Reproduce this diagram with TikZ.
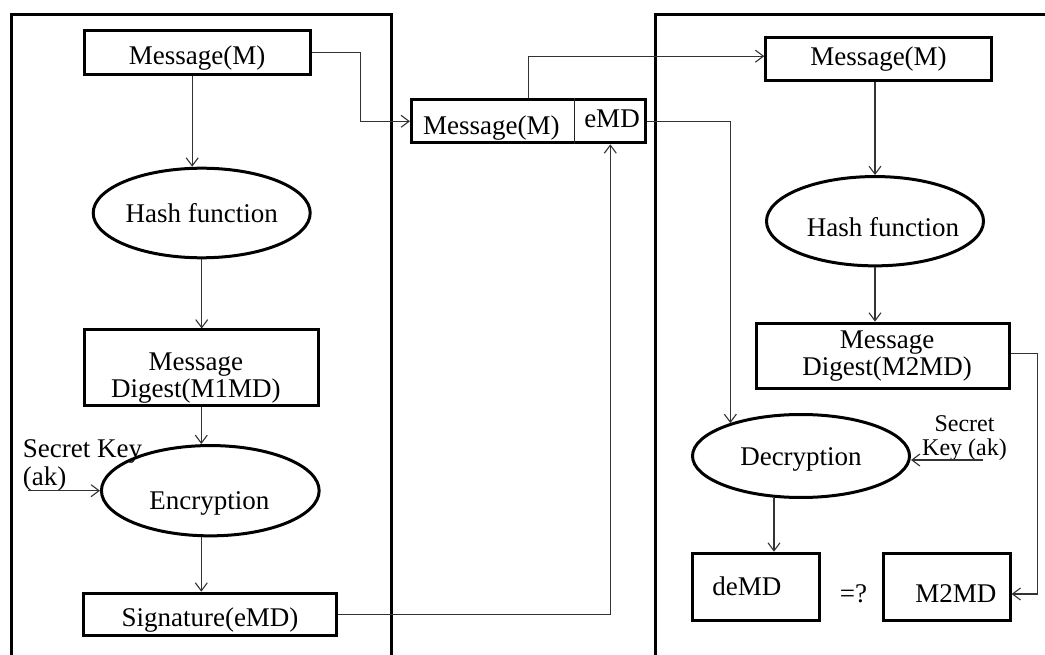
\documentclass[tikz,border=0pt]{standalone}
\usepackage{fontspec}
\setmainfont{Liberation Serif}
\usetikzlibrary{arrows.meta,shapes.geometric,calc}
\begin{document}
\begin{tikzpicture}[x=1pt,y=-1pt,
  every node/.style={font=\fontsize{27}{27}\selectfont, inner sep=0pt},
  rbox/.style={draw=black, line width=3pt, rectangle, align=center},
  ell/.style={draw=black, line width=3pt, ellipse, align=center},
  panel/.style={draw=black, line width=3pt},
  divider/.style={draw=black!85, line width=1.2pt},
  arr/.style={draw=black!80, line width=1.1pt, -{Straight Barb[length=8pt,width=12pt]}},
  lbl/.style n args={3}{label={[shift={(#1,#2)},align=center,font=\fontsize{27}{27}\selectfont]center:#3}}]
\useasboundingbox (0,0) rectangle (1045,655);

% panels
\draw[panel] (11.2,670) -- (11.2,14.5) -- (391.7,14.5) -- (391.7,670);
\draw[panel] (655.7,670) -- (655.7,14.5) -- (1060,14.5);

% left side (sender)
\node[rbox, minimum width=226pt, minimum height=44pt, lbl={0}{6}{Message(M)}] (msg1) at (197.2,52.2) {};
\node[ell, minimum width=217pt, minimum height=89.6pt] (hash1) at (201.7,213) {Hash function};
\node[rbox, minimum width=234pt, minimum height=75pt, lbl={-5.5}{11}{Message\\Digest(M1MD)}] (md1) at (201.3,367.5) {};
\node[ell, minimum width=217.7pt, minimum height=90.3pt, lbl={-1}{13}{Encryption}] (enc) at (210.3,490.7) {};
\node[rbox, minimum width=253pt, minimum height=42.6pt, lbl={0}{6}{Signature(eMD)}] (sig) at (210,614.5) {};
\node[anchor=west, align=left, font=\fontsize{27}{28}\selectfont] (skL) at (22.7,465.4) {Secret Key\\(ak)};
\coordinate (skLs) at (28.3,490.7);

% middle packet
\node[rbox, minimum width=233.7pt, minimum height=43pt] (mid) at (528.3,121.3) {};
\coordinate (dv) at (574.3,121.3);
\draw[divider] (dv |- mid.north) -- (dv |- mid.south);
\node (midA) at (491.3,128) {Message(M)};
\node (midB) at (612,118.3) {eMD};

% right side (receiver)
\node[rbox, minimum width=225.4pt, minimum height=43.3pt] (msg2) at (878.5,59.2) {Message(M)};
\node[ell, minimum width=217pt, minimum height=89.3pt, lbl={8}{6}{Hash function}] (hash2) at (875,221.2) {};
\node[rbox, minimum width=253pt, minimum height=65.3pt, lbl={4}{0}{Message\\Digest(M2MD)}] (md2) at (883,355.8) {};
\node[ell, minimum width=217pt, minimum height=83pt, lbl={0}{3}{Decryption}] (dec) at (801,456) {};
\node[rbox, minimum width=126.7pt, minimum height=67pt, lbl={-9}{0}{deMD}] (demd) at (755.8,586.7) {};
\node[rbox, minimum width=126.7pt, minimum height=67pt, lbl={9}{7}{M2MD}] (m2md) at (946.8,586.7) {};
\node (eq) at (853.5,594) {=?};
\node[align=center, font=\fontsize{24}{24}\selectfont] (skR) at (964.5,438.3) {Secret\\Key (ak)};
\coordinate (skRs) at (983,460);

% connectors, left
\draw[arr] ($(msg1.south)+(-5,0)$) -- ($(hash1.north)+(-9.5,0)$);
\draw[arr] (hash1.south) -- (hash1.south |- md1.north);
\draw[arr] (md1.south) -- (md1.south |- enc.north);
\draw[arr] (md1.south |- enc.south) -- (md1.south |- sig.north);
\draw[arr] (skLs) -- (enc.west);

% connectors, to and from the packet
\draw[arr] (msg1.east) -- ++(48.5,0) |- (mid.west);
\draw[arr] (mid.north) |- ($(msg2.west)+(0,-3)$);
\draw[arr] (sig.east) -| ($(mid.south)+(82,0)$);
\draw[arr] (mid.east) -| (dec.155.7);

% connectors, right
\draw[arr] (msg2.south -| hash2.north) -- (hash2.north);
\draw[arr] (hash2.south) -- (hash2.south |- md2.north);
\draw[arr] ($(dec.south)+(-27,-1.5)$) -- ($(demd.north)+(18.2,0)$);
\draw[arr] (skRs) -- (skRs -| dec.east);
\draw[arr] ($(md2.east)+(0,-2.5)$) -- ++(26.7,0) |- ($(m2md.east)+(0,7.3)$);
\end{tikzpicture}
\end{document}
